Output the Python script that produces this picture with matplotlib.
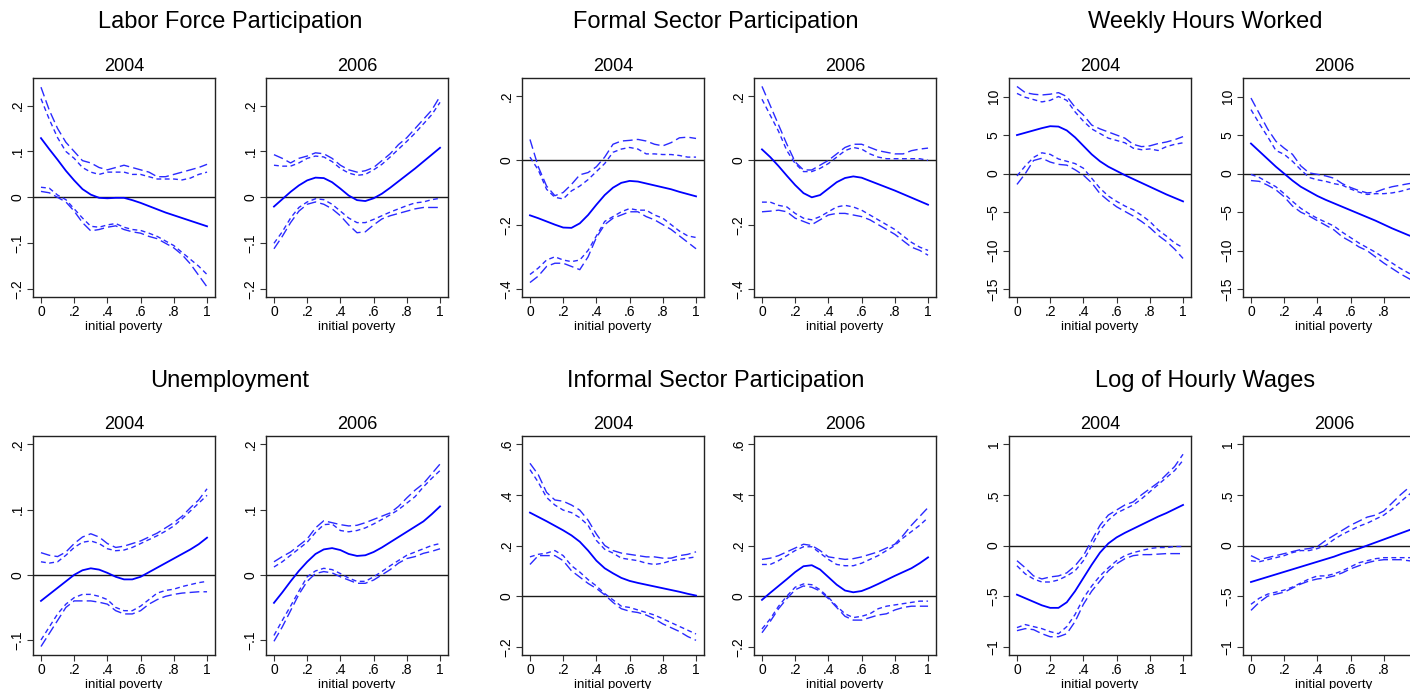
import matplotlib
matplotlib.use("Agg")
import matplotlib.pyplot as plt

plt.rcParams['font.family'] = ['Liberation Sans', 'DejaVu Sans']

# evaluation grid for initial poverty
poverty = [0.0, 0.05, 0.1, 0.15, 0.2, 0.25, 0.3, 0.35, 0.4, 0.45, 0.5,
           0.55, 0.6, 0.65, 0.7, 0.75, 0.8, 0.85, 0.9, 0.95, 1.0]

# Labor force participation
lfp04_est = [0.129, 0.105, 0.082, 0.058, 0.037, 0.018, 0.006, -0.001, -0.002, -0.001, -0.001,
             -0.006, -0.012, -0.019, -0.026, -0.033, -0.039, -0.045, -0.051, -0.057, -0.063]
lfp04_hi_a = [0.24, 0.19, 0.15, 0.12, 0.10, 0.08, 0.075, 0.065, 0.06, 0.065, 0.07,
              0.065, 0.06, 0.055, 0.045, 0.045, 0.05, 0.055, 0.06, 0.065, 0.072]
lfp04_hi_b = [0.215, 0.17, 0.13, 0.10, 0.085, 0.065, 0.055, 0.05, 0.055, 0.055, 0.055,
              0.05, 0.05, 0.045, 0.04, 0.04, 0.04, 0.038, 0.042, 0.05, 0.055]
lfp04_lo_a = [0.013, 0.01, 0.0, -0.01, -0.03, -0.055, -0.073, -0.07, -0.065, -0.062, -0.07,
              -0.075, -0.078, -0.085, -0.09, -0.1, -0.11, -0.125, -0.145, -0.17, -0.195]
lfp04_lo_b = [0.022, 0.02, 0.005, -0.005, -0.025, -0.045, -0.063, -0.065, -0.06, -0.057, -0.065,
              -0.07, -0.072, -0.078, -0.085, -0.095, -0.105, -0.12, -0.135, -0.15, -0.168]

lfp06_est = [-0.02, -0.004, 0.012, 0.026, 0.037, 0.043, 0.042, 0.033, 0.019, 0.004, -0.006,
             -0.008, -0.002, 0.008, 0.021, 0.035, 0.049, 0.063, 0.078, 0.093, 0.108]
lfp06_hi_a = [0.093, 0.085, 0.075, 0.085, 0.09, 0.097, 0.095, 0.085, 0.07, 0.06, 0.055,
              0.058, 0.065, 0.08, 0.095, 0.115, 0.13, 0.15, 0.17, 0.19, 0.22]
lfp06_hi_b = [0.07, 0.068, 0.068, 0.075, 0.085, 0.09, 0.088, 0.078, 0.063, 0.053, 0.048,
              0.05, 0.06, 0.072, 0.088, 0.105, 0.122, 0.14, 0.16, 0.18, 0.207]
lfp06_lo_a = [-0.112, -0.085, -0.055, -0.03, -0.015, -0.01, -0.015, -0.025, -0.04, -0.06, -0.077,
              -0.075, -0.06, -0.047, -0.04, -0.035, -0.03, -0.025, -0.022, -0.022, -0.022]
lfp06_lo_b = [-0.1, -0.075, -0.045, -0.022, -0.01, -0.003, -0.005, -0.015, -0.03, -0.045, -0.055,
              -0.055, -0.048, -0.04, -0.032, -0.025, -0.018, -0.012, -0.01, -0.005, -0.002]

# Formal sector participation
frm04_est = [-0.171, -0.18, -0.19, -0.2, -0.209, -0.21, -0.196, -0.17, -0.138, -0.108, -0.085,
             -0.07, -0.064, -0.066, -0.072, -0.078, -0.084, -0.09, -0.098, -0.105, -0.112]
frm04_hi_a = [0.065, -0.02, -0.08, -0.11, -0.1, -0.075, -0.045, -0.038, -0.02, 0.01, 0.05,
              0.06, 0.062, 0.065, 0.06, 0.05, 0.045, 0.055, 0.07, 0.072, 0.068]
frm04_hi_b = [0.01, -0.03, -0.09, -0.115, -0.12, -0.095, -0.08, -0.06, -0.035, -0.01, 0.025,
              0.035, 0.04, 0.035, 0.02, 0.02, 0.018, 0.018, 0.015, 0.01, 0.01]
frm04_lo_a = [-0.38, -0.36, -0.33, -0.32, -0.32, -0.33, -0.34, -0.3, -0.24, -0.2, -0.18,
              -0.17, -0.16, -0.16, -0.175, -0.185, -0.2, -0.215, -0.235, -0.255, -0.275]
frm04_lo_b = [-0.355, -0.335, -0.31, -0.3, -0.31, -0.315, -0.31, -0.28, -0.235, -0.19, -0.175,
              -0.16, -0.15, -0.155, -0.155, -0.17, -0.18, -0.2, -0.22, -0.235, -0.24]

frm06_est = [0.034, 0.01, -0.018, -0.048, -0.077, -0.102, -0.115, -0.108, -0.088, -0.068, -0.055,
             -0.05, -0.054, -0.064, -0.074, -0.084, -0.094, -0.105, -0.116, -0.127, -0.138]
frm06_hi_a = [0.23, 0.17, 0.11, 0.05, -0.005, -0.03, -0.03, -0.015, 0.0, 0.02, 0.04,
              0.05, 0.05, 0.04, 0.03, 0.025, 0.02, 0.02, 0.03, 0.035, 0.038]
frm06_hi_b = [0.19, 0.14, 0.09, 0.03, -0.01, -0.035, -0.035, -0.025, -0.01, 0.01, 0.03,
              0.04, 0.035, 0.02, 0.01, 0.005, 0.005, 0.005, 0.005, 0.005, 0.0]
frm06_lo_a = [-0.16, -0.158, -0.155, -0.16, -0.18, -0.19, -0.2, -0.185, -0.17, -0.165, -0.165,
              -0.17, -0.175, -0.185, -0.2, -0.215, -0.23, -0.25, -0.27, -0.28, -0.295]
frm06_lo_b = [-0.13, -0.13, -0.14, -0.145, -0.165, -0.18, -0.185, -0.175, -0.16, -0.145, -0.14,
              -0.145, -0.155, -0.17, -0.185, -0.2, -0.215, -0.235, -0.255, -0.27, -0.28]

# Weekly hours worked
hrs04_est = [5.0, 5.3, 5.6, 5.9, 6.15, 6.1, 5.6, 4.7, 3.6, 2.5, 1.6,
             0.9, 0.35, -0.2, -0.7, -1.2, -1.7, -2.2, -2.7, -3.15, -3.6]
hrs04_hi_a = [11.3, 10.5, 10.3, 10.2, 10.3, 10.5, 10.0, 8.6, 7.6, 6.3, 5.8,
              5.4, 5.0, 4.6, 3.8, 3.5, 3.6, 3.9, 4.1, 4.4, 4.8]
hrs04_hi_b = [10.4, 9.9, 9.6, 9.3, 9.5, 10.0, 9.5, 8.0, 6.8, 5.8, 5.2,
              4.6, 4.3, 4.0, 3.3, 3.1, 3.2, 3.0, 3.5, 3.8, 4.0]
hrs04_lo_a = [-1.4, 0.0, 1.7, 2.0, 1.5, 1.2, 1.1, 0.5, -0.2, -1.2, -2.6,
              -3.5, -4.3, -4.9, -5.5, -6.2, -7.0, -8.0, -8.8, -9.8, -11.0]
hrs04_lo_b = [-0.3, 1.0, 2.1, 2.7, 2.5, 1.9, 1.6, 1.3, 0.7, -0.6, -1.9,
              -2.9, -3.6, -4.2, -4.7, -5.4, -6.2, -7.3, -8.1, -9.0, -9.6]

hrs06_est = [3.9, 2.9, 1.9, 0.9, 0.0, -0.9, -1.7, -2.3, -2.9, -3.4, -3.85,
             -4.3, -4.75, -5.2, -5.65, -6.1, -6.6, -7.1, -7.55, -8.0, -8.4]
hrs06_hi_a = [9.8, 7.8, 5.8, 4.2, 3.3, 2.5, 1.0, 0.1, -0.1, -0.3, -0.6,
              -1.3, -1.8, -2.2, -2.5, -2.4, -2.0, -1.7, -1.5, -1.3, -1.2]
hrs06_hi_b = [8.3, 6.5, 4.8, 3.0, 2.5, 1.6, 0.5, -0.5, -0.8, -1.0, -1.3,
              -1.5, -2.0, -2.4, -2.7, -2.6, -2.6, -2.5, -2.3, -2.0, -1.8]
hrs06_lo_a = [-0.9, -1.0, -1.5, -2.1, -3.0, -4.2, -5.0, -5.5, -6.1, -6.7, -7.3,
              -8.2, -8.8, -9.5, -10.0, -10.8, -11.6, -12.3, -13.0, -13.6, -14.2]
hrs06_lo_b = [-0.1, -0.5, -1.1, -1.7, -2.6, -3.6, -4.5, -5.2, -5.8, -6.3, -6.8,
              -7.6, -8.3, -9.0, -9.6, -10.2, -10.9, -11.6, -12.3, -12.9, -13.4]

# Unemployment
une04_est = [-0.04, -0.03, -0.02, -0.01, 0.0, 0.007, 0.01, 0.008, 0.003, -0.003, -0.007,
             -0.007, -0.003, 0.004, 0.011, 0.018, 0.025, 0.032, 0.039, 0.047, 0.057]
une04_hi_a = [0.034, 0.03, 0.028, 0.035, 0.048, 0.058, 0.063, 0.058, 0.048, 0.042, 0.044,
              0.048, 0.052, 0.058, 0.064, 0.072, 0.08, 0.09, 0.103, 0.115, 0.132]
une04_hi_b = [0.02, 0.018, 0.02, 0.03, 0.042, 0.05, 0.052, 0.048, 0.04, 0.037, 0.038,
              0.042, 0.048, 0.054, 0.06, 0.067, 0.075, 0.086, 0.098, 0.11, 0.122]
une04_lo_a = [-0.11, -0.09, -0.07, -0.05, -0.04, -0.04, -0.04, -0.042, -0.045, -0.055, -0.06,
              -0.06, -0.055, -0.045, -0.038, -0.033, -0.03, -0.028, -0.027, -0.026, -0.026]
une04_lo_b = [-0.1, -0.08, -0.06, -0.045, -0.035, -0.03, -0.03, -0.033, -0.038, -0.05, -0.055,
              -0.055, -0.048, -0.038, -0.028, -0.024, -0.022, -0.018, -0.015, -0.012, -0.01]

une06_est = [-0.043, -0.027, -0.01, 0.006, 0.02, 0.032, 0.039, 0.041, 0.038, 0.032, 0.029,
             0.03, 0.035, 0.042, 0.05, 0.058, 0.066, 0.074, 0.082, 0.093, 0.105]
une06_hi_a = [0.02, 0.028, 0.035, 0.045, 0.055, 0.072, 0.083, 0.08, 0.077, 0.075, 0.076,
              0.08, 0.085, 0.09, 0.095, 0.105, 0.118, 0.13, 0.14, 0.155, 0.17]
une06_hi_b = [0.012, 0.02, 0.03, 0.04, 0.05, 0.065, 0.077, 0.078, 0.068, 0.066, 0.068,
              0.072, 0.078, 0.085, 0.092, 0.1, 0.11, 0.12, 0.135, 0.148, 0.16]
une06_lo_a = [-0.102, -0.08, -0.055, -0.03, -0.01, 0.002, 0.005, 0.003, -0.003, -0.008, -0.013,
              -0.013, -0.008, 0.0, 0.008, 0.018, 0.025, 0.028, 0.033, 0.036, 0.04]
une06_lo_b = [-0.093, -0.07, -0.048, -0.025, -0.003, 0.006, 0.01, 0.008, 0.002, -0.005, -0.01,
              -0.01, -0.003, 0.005, 0.014, 0.022, 0.03, 0.035, 0.04, 0.045, 0.048]

# Informal sector participation
inf04_est = [0.33, 0.313, 0.296, 0.278, 0.26, 0.24, 0.215, 0.18, 0.14, 0.11, 0.09,
             0.072, 0.06, 0.052, 0.045, 0.038, 0.031, 0.024, 0.017, 0.009, 0.002]
inf04_hi_a = [0.525, 0.48, 0.41, 0.38, 0.375, 0.36, 0.34, 0.3, 0.245, 0.2, 0.18,
              0.17, 0.165, 0.16, 0.155, 0.155, 0.15, 0.15, 0.16, 0.165, 0.175]
inf04_hi_b = [0.5, 0.45, 0.39, 0.36, 0.34, 0.33, 0.31, 0.28, 0.22, 0.185, 0.17,
              0.15, 0.145, 0.14, 0.13, 0.125, 0.13, 0.14, 0.145, 0.15, 0.155]
inf04_lo_a = [0.125, 0.16, 0.16, 0.16, 0.14, 0.1, 0.075, 0.05, 0.03, 0.005, -0.025,
              -0.05, -0.06, -0.065, -0.075, -0.09, -0.11, -0.125, -0.14, -0.16, -0.175]
inf04_lo_b = [0.155, 0.165, 0.17, 0.18, 0.16, 0.12, 0.095, 0.065, 0.04, 0.01, -0.015,
              -0.04, -0.045, -0.055, -0.065, -0.075, -0.09, -0.105, -0.12, -0.135, -0.15]

inf06_est = [-0.015, 0.013, 0.04, 0.067, 0.095, 0.118, 0.122, 0.105, 0.075, 0.045, 0.022,
             0.015, 0.02, 0.033, 0.048, 0.064, 0.08, 0.095, 0.11, 0.13, 0.153]
inf06_hi_a = [0.145, 0.15, 0.16, 0.175, 0.19, 0.205, 0.2, 0.18, 0.155, 0.15, 0.145,
              0.148, 0.155, 0.165, 0.175, 0.19, 0.205, 0.24, 0.28, 0.315, 0.35]
inf06_hi_b = [0.125, 0.125, 0.14, 0.16, 0.18, 0.195, 0.195, 0.17, 0.145, 0.125, 0.12,
              0.12, 0.13, 0.145, 0.16, 0.18, 0.2, 0.23, 0.255, 0.28, 0.31]
inf06_lo_a = [-0.145, -0.1, -0.05, -0.01, 0.025, 0.04, 0.035, 0.02, -0.01, -0.045, -0.08,
              -0.095, -0.095, -0.085, -0.075, -0.07, -0.055, -0.045, -0.04, -0.04, -0.04]
inf06_lo_b = [-0.13, -0.09, -0.04, 0.0, 0.035, 0.048, 0.045, 0.025, -0.005, -0.04, -0.07,
              -0.085, -0.08, -0.07, -0.05, -0.04, -0.035, -0.03, -0.025, -0.02, -0.02]

# Log of hourly wages
wag04_est = [-0.485, -0.52, -0.555, -0.59, -0.615, -0.615, -0.56, -0.45, -0.32, -0.19, -0.07,
             0.02, 0.08, 0.125, 0.165, 0.205, 0.245, 0.285, 0.32, 0.36, 0.40]
wag04_hi_a = [-0.15, -0.22, -0.3, -0.33, -0.31, -0.3, -0.27, -0.2, -0.1, 0.05, 0.2,
              0.3, 0.35, 0.4, 0.43, 0.5, 0.56, 0.62, 0.7, 0.78, 0.9]
wag04_hi_b = [-0.2, -0.28, -0.33, -0.36, -0.36, -0.34, -0.3, -0.25, -0.15, 0.0, 0.15,
              0.25, 0.32, 0.36, 0.4, 0.46, 0.53, 0.6, 0.67, 0.74, 0.84]
wag04_lo_a = [-0.84, -0.82, -0.83, -0.87, -0.9, -0.9, -0.87, -0.75, -0.58, -0.45, -0.35,
              -0.25, -0.18, -0.13, -0.1, -0.09, -0.09, -0.085, -0.08, -0.08, -0.08]
wag04_lo_b = [-0.81, -0.78, -0.8, -0.82, -0.85, -0.87, -0.8, -0.68, -0.52, -0.4, -0.3,
              -0.22, -0.15, -0.1, -0.07, -0.05, -0.03, -0.02, -0.02, -0.01, -0.01]

wag06_est = [-0.36, -0.335, -0.31, -0.285, -0.26, -0.235, -0.21, -0.185, -0.16, -0.135, -0.11,
             -0.08, -0.055, -0.03, 0.0, 0.03, 0.06, 0.09, 0.12, 0.15, 0.18]
wag06_hi_a = [-0.1, -0.14, -0.12, -0.1, -0.08, -0.06, -0.04, -0.03, -0.01, 0.05, 0.1,
              0.15, 0.2, 0.24, 0.28, 0.3, 0.34, 0.42, 0.5, 0.57, 0.62]
wag06_hi_b = [-0.15, -0.16, -0.14, -0.12, -0.1, -0.07, -0.05, -0.05, -0.03, 0.0, 0.06,
              0.11, 0.15, 0.19, 0.22, 0.26, 0.3, 0.36, 0.43, 0.5, 0.56]
wag06_lo_a = [-0.64, -0.56, -0.5, -0.48, -0.46, -0.42, -0.38, -0.35, -0.33, -0.32, -0.3,
              -0.27, -0.23, -0.2, -0.17, -0.15, -0.14, -0.14, -0.14, -0.15, -0.16]
wag06_lo_b = [-0.58, -0.52, -0.48, -0.46, -0.44, -0.41, -0.37, -0.33, -0.3, -0.3, -0.28,
              -0.25, -0.21, -0.17, -0.15, -0.13, -0.12, -0.12, -0.12, -0.12, -0.12]

x_ticks = [0, 0.2, 0.4, 0.6, 0.8, 1]
years = ['2004', '2006']

# title, y ticks, y limits, and the two years of curves for each outcome
groups = [
    ('Labor Force Participation', [-0.2, -0.1, 0, 0.1, 0.2], (-0.217, 0.26),
     [(lfp04_est, lfp04_hi_a, lfp04_hi_b, lfp04_lo_a, lfp04_lo_b),
      (lfp06_est, lfp06_hi_a, lfp06_hi_b, lfp06_lo_a, lfp06_lo_b)]),
    ('Formal Sector Participation', [-0.4, -0.2, 0, 0.2], (-0.425, 0.256),
     [(frm04_est, frm04_hi_a, frm04_hi_b, frm04_lo_a, frm04_lo_b),
      (frm06_est, frm06_hi_a, frm06_hi_b, frm06_lo_a, frm06_lo_b)]),
    ('Weekly Hours Worked', [-15, -10, -5, 0, 5, 10], (-16.0, 12.4),
     [(hrs04_est, hrs04_hi_a, hrs04_hi_b, hrs04_lo_a, hrs04_lo_b),
      (hrs06_est, hrs06_hi_a, hrs06_hi_b, hrs06_lo_a, hrs06_lo_b)]),
    ('Unemployment', [-0.1, 0, 0.1, 0.2], (-0.123, 0.213),
     [(une04_est, une04_hi_a, une04_hi_b, une04_lo_a, une04_lo_b),
      (une06_est, une06_hi_a, une06_hi_b, une06_lo_a, une06_lo_b)]),
    ('Informal Sector Participation', [-0.2, 0, 0.2, 0.4, 0.6], (-0.233, 0.633),
     [(inf04_est, inf04_hi_a, inf04_hi_b, inf04_lo_a, inf04_lo_b),
      (inf06_est, inf06_hi_a, inf06_hi_b, inf06_lo_a, inf06_lo_b)]),
    ('Log of Hourly Wages', [-1, -0.5, 0, 0.5, 1], (-1.08, 1.08),
     [(wag04_est, wag04_hi_a, wag04_hi_b, wag04_lo_a, wag04_lo_b),
      (wag06_est, wag06_hi_a, wag06_hi_b, wag06_lo_a, wag06_lo_b)]),
]


def stata_label(v):
    # Stata style: drop leading zero, use a real minus sign
    if v == int(v):
        s = str(int(abs(v)))
    else:
        s = ('%g' % abs(v)).lstrip('0')
    return ('\u2212' + s) if v < 0 else s


W, H = 1410, 689
fig = plt.figure(figsize=(W / 100, H / 100), dpi=100)

col_left = [33, 266, 522, 754, 1009, 1243]
row_top = [78, 436]
ax_w, ax_h = 182, 219
title_x = [230, 716, 1205]
title_y = [22, 381]

blue = '#0000ff'
dash_blue = '#2a2aff'

for g, (gtitle, yticks, ylim, curves) in enumerate(groups):
    row, col = divmod(g, 3)
    fig.text(title_x[col] / W, 1 - title_y[row] / H, gtitle,
             ha='center', va='center', fontsize=17)
    for k in range(2):
        left = col_left[2 * col + k]
        ax = fig.add_axes([left / W, 1 - (row_top[row] + ax_h) / H, ax_w / W, ax_h / H])
        est, hi_a, hi_b, lo_a, lo_b = curves[k]

        ax.axhline(0, color='#1a1a1a', lw=1.0, zorder=1)
        ax.plot(poverty, est, color=blue, lw=1.3, zorder=3)
        for band in (hi_a, lo_a):
            ax.plot(poverty, band, color=dash_blue, lw=1.0, dashes=(7, 3), zorder=2)
        for band in (hi_b, lo_b):
            ax.plot(poverty, band, color=dash_blue, lw=1.0, dashes=(3.5, 2.5), zorder=2)

        ax.set_xlim(-0.048, 1.048)
        ax.set_ylim(*ylim)
        ax.set_xticks(x_ticks)
        ax.set_xticklabels([stata_label(v) for v in x_ticks], fontsize=10)
        ax.set_yticks(yticks)
        ax.set_yticklabels([stata_label(v) for v in yticks], fontsize=10,
                           rotation=90, va='center')
        ax.tick_params(direction='out', length=4, width=0.8, pad=2, color='#333333')
        for sp in ax.spines.values():
            sp.set_color('#222222')
            sp.set_linewidth(1.0)
        ax.set_xlabel('initial poverty', fontsize=9.5, labelpad=1)
        ax.set_title(years[k], fontsize=13, pad=5)

fig.savefig('out.png', dpi=100)
